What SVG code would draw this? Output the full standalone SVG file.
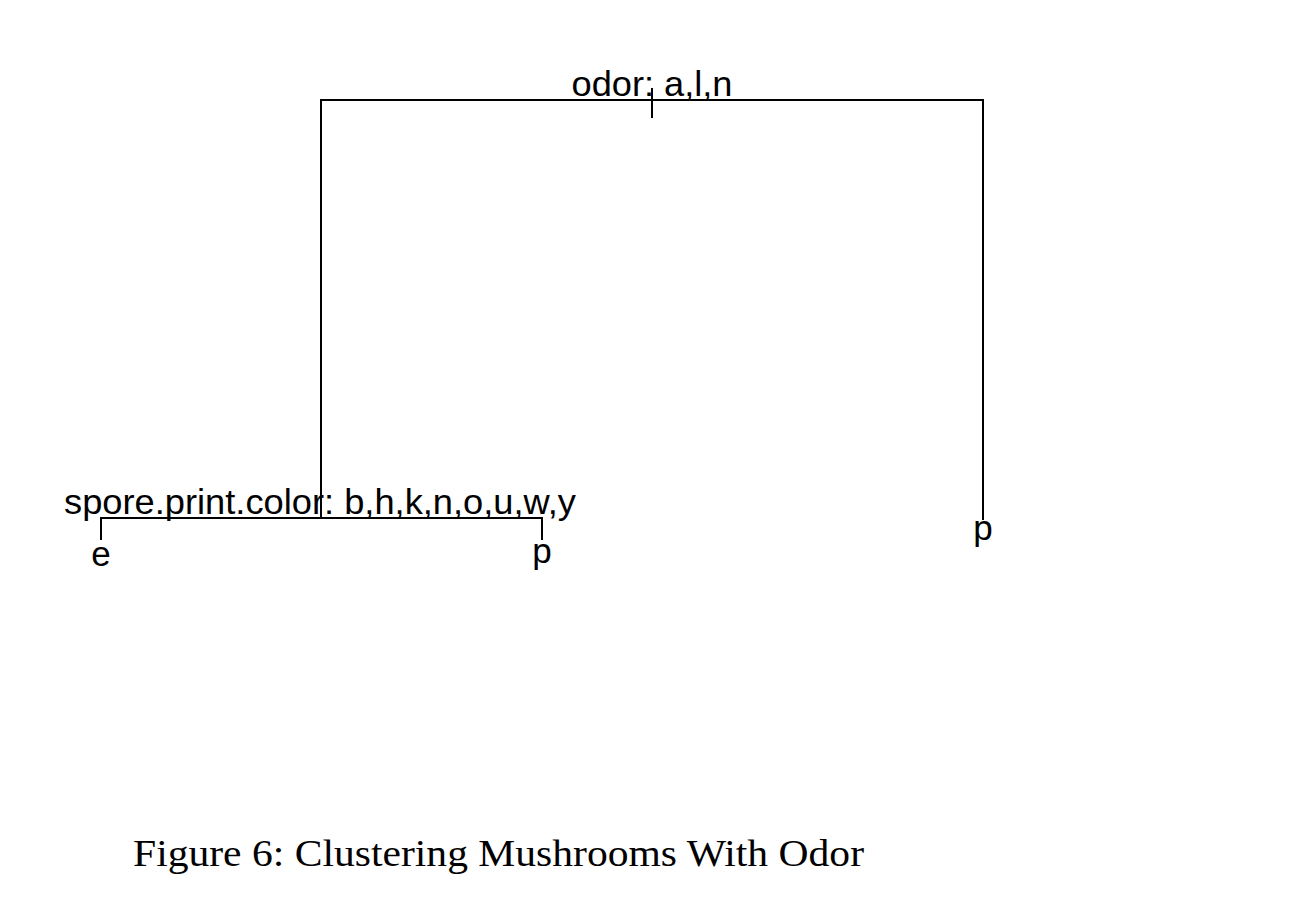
<svg xmlns="http://www.w3.org/2000/svg" width="1305" height="909" viewBox="0 0 1305 909">
<style>
.e{stroke:#000;stroke-width:2;fill:none}
.t{font-family:"Liberation Sans",Arial,sans-serif;font-size:35px;fill:#000;text-anchor:middle}
.cap{font-family:"Liberation Serif","DejaVu Serif",serif;font-size:38px;fill:#000}
</style>
<rect width="1305" height="909" fill="#fff"/>
<g id="connectors">
<path class="e" d="M321,518 V100 H983 V520"/>
<path class="e" d="M652,88 V118"/>
<path class="e" d="M101,540 V518 H542 V540"/>
</g>
<g id="root"><text class="t" x="652" y="96" textLength="161" lengthAdjust="spacingAndGlyphs">odor: a,l,n</text></g>
<g id="spore"><text class="t" x="320" y="514" textLength="512" lengthAdjust="spacingAndGlyphs">spore.print.color: b,h,k,n,o,u,w,y</text></g>
<g id="leaf-e"><text class="t" x="101" y="566">e</text></g>
<g id="leaf-p1"><text class="t" x="542" y="563">p</text></g>
<g id="leaf-p2"><text class="t" x="983" y="540">p</text></g>
<g id="caption"><text class="cap" x="133" y="866" textLength="731" lengthAdjust="spacingAndGlyphs">Figure 6: Clustering Mushrooms With Odor</text></g>
</svg>
